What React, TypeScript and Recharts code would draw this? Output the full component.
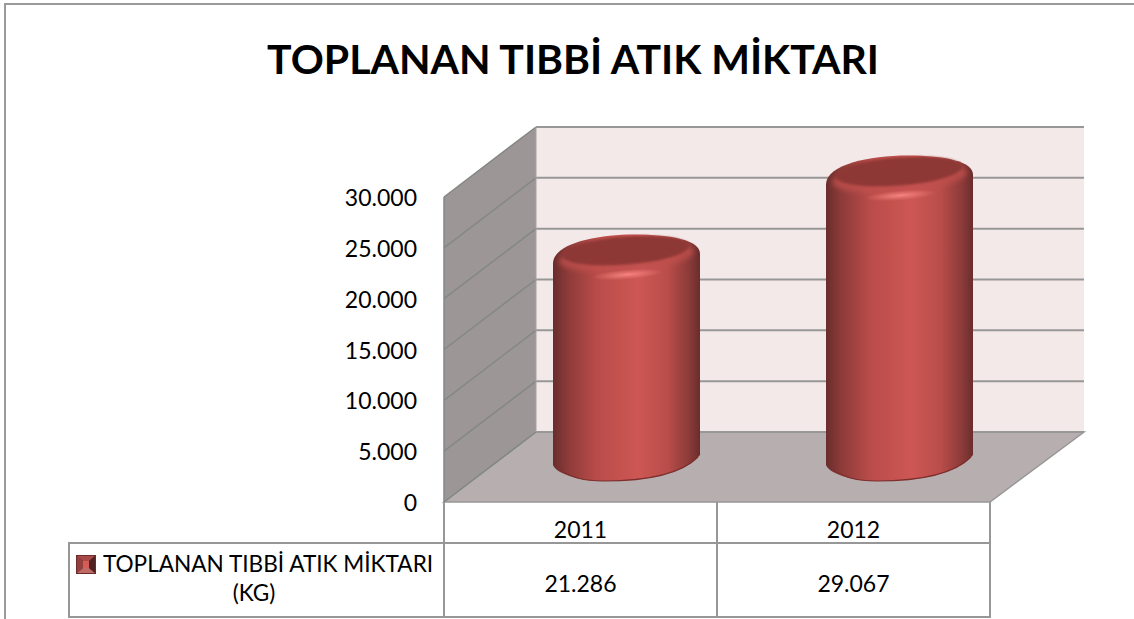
import { Bar, BarChart, XAxis, YAxis, usePlotArea } from "recharts";

const years = ["2011", "2012"];
const amounts = [21286, 29067];
const yTicks = [0, 5000, 10000, 15000, 20000, 25000, 30000];
const titleText = "TOPLANAN TIBBİ ATIK MİKTARI";
const seriesLines = ["TOPLANAN TIBBİ ATIK MİKTARI", "(KG)"];

const data = years.map((year, i) => ({ year, amount: amounts[i] }));

const FONT = "Lato, Carlito, 'Open Sans', sans-serif";
const LINE = "#979797";
const DX = 92; // depth of the fake 3d box
const DY = -70;
const yMax = yTicks[yTicks.length - 1];
const fmt = (v: number) => v.toLocaleString("de-DE");

function Box() {
  const area = usePlotArea();
  if (!area) return null;
  const { x, y, width, height } = area;
  const bottom = y + height;
  const right = x + width;
  const tickY = (t: number) => bottom - (t / yMax) * height;
  return (
    <g>
      <defs>
        <linearGradient id="body" x1="0" x2="1" y1="0" y2="0">
          <stop offset="0" stopColor="#692d2c" />
          <stop offset="0.1" stopColor="#8c3b39" />
          <stop offset="0.3" stopColor="#b94c49" />
          <stop offset="0.58" stopColor="#cd5754" />
          <stop offset="0.78" stopColor="#b94d4a" />
          <stop offset="0.93" stopColor="#8a3a38" />
          <stop offset="1" stopColor="#692d2c" />
        </linearGradient>
        <radialGradient id="shine">
          <stop offset="0" stopColor="#f58380" stopOpacity={1} />
          <stop offset="1" stopColor="#f17c78" stopOpacity={0} />
        </radialGradient>
        <filter id="soft" x="-10%" y="-20%" width="120%" height="140%">
          <feGaussianBlur stdDeviation="1.2" />
        </filter>
        <filter id="softer" x="-10%" y="-30%" width="120%" height="160%">
          <feGaussianBlur stdDeviation="2.5" />
        </filter>
      </defs>
      {/* back wall */}
      <rect x={x + DX} y={y + DY} width={width + 2} height={height} fill="#f4e9e9" />
      {/* side wall */}
      <polygon
        points={`${x},${y} ${x + DX},${y + DY} ${x + DX},${bottom + DY} ${x},${bottom}`}
        fill="#9c9696"
      />
      {/* floor */}
      <polygon
        points={`${x},${bottom} ${right},${bottom} ${right + DX + 2},${bottom + DY} ${x + DX},${bottom + DY}`}
        fill="#b7afaf"
        stroke={LINE}
        strokeWidth={1.5}
      />
      {yTicks.map((t) => (
        <g key={t} fill="none">
          <line x1={x} y1={tickY(t)} x2={x + DX} y2={tickY(t) + DY} stroke="#858787" strokeWidth={1.5} />
          <line x1={x + DX} y1={tickY(t) + DY} x2={right + DX + 2} y2={tickY(t) + DY} stroke={LINE} strokeWidth={2} />
        </g>
      ))}
      <line x1={x} y1={y} x2={x} y2={bottom} stroke="#858787" strokeWidth={1.5} />
      <line x1={x + DX} y1={y + DY} x2={x + DX} y2={bottom + DY} stroke="#a8a3a3" strokeWidth={1} />
    </g>
  );
}

function Cylinder(props: any) {
  const { x, y, width, height } = props;
  const cx = x + width / 2 + DX / 2;
  const rx = width / 2;
  const topY = y - 30;
  const botY = y + height - 41;
  const left = cx - rx;
  const right = cx + rx;
  const rot = -4.4;
  const outline =
    `M${left},${topY + 8} C${left},${topY - 12} ${cx - 30},${topY - 21} ${cx + 8},${topY - 21} ` +
    `C${cx + 45},${topY - 21} ${right},${topY - 15} ${right},${topY - 2} ` +
    `L${right},${botY - 6} C${right - 10},${botY + 6} ${cx + 40},${botY + 20} ${cx - 23},${botY + 20} ` +
    `C${cx - 50},${botY + 20} ${left + 3},${botY + 12} ${left},${botY + 4} Z`;
  return (
    <g>
      <path d={outline} fill="url(#body)" />
      <path
        d={`M${right - 2},${botY - 4} C${right - 12},${botY + 6} ${cx + 40},${botY + 20} ${cx - 23},${botY + 20} C${cx - 45},${botY + 20} ${left + 20},${botY + 16} ${left + 8},${botY + 10}`}
        fill="none"
        stroke="#7d2f2e"
        strokeWidth={1.1}
      />
      {/* lighter band under the cap */}
      <ellipse
        cx={cx}
        cy={topY + 1}
        rx={rx - 6}
        ry={15}
        fill="#c0504d"
        opacity={0.75}
        filter="url(#softer)"
        transform={`rotate(${rot} ${cx} ${topY + 1})`}
      />
      <ellipse
        cx={cx + 1}
        cy={topY + 19}
        rx={36}
        ry={5}
        fill="url(#shine)"
        transform={`rotate(${rot} ${cx} ${topY + 19})`}
      />
      <ellipse
        cx={cx - 1}
        cy={topY - 5}
        rx={rx - 10}
        ry={14}
        fill="#8e3836"
        filter="url(#soft)"
        transform={`rotate(${rot} ${cx} ${topY - 5})`}
      />
    </g>
  );
}

function YearAndValueTick(props: any) {
  const { x, payload, index } = props;
  return (
    <g fontFamily={FONT} fontSize={23} fill="#000" textAnchor="middle">
      <text x={x} y={538}>{payload.value}</text>
      <text x={x} y={592}>{fmt(amounts[index])}</text>
    </g>
  );
}

function DataTable() {
  const area = usePlotArea();
  if (!area) return null;
  const { x, y, width, height } = area;
  const top = y + height;
  const mid = x + width / 2;
  const right = x + width;
  return (
    <g fill="none" stroke={LINE} strokeWidth={2}>
      <line x1={x} y1={top} x2={x} y2={543} />
      <line x1={mid} y1={top} x2={mid} y2={617} />
      <line x1={right} y1={top} x2={right} y2={617} />
      <rect x={69} y={543} width={right - 69} height={74} />
      <line x1={x} y1={543} x2={x} y2={617} />
    </g>
  );
}

function LegendCell() {
  return (
    <g>
      <rect x={76} y={555} width={20} height={19} fill="#6b2c2b" />
      <polygon points="77,556 95,556 89,561 83,561" fill="#a94a48" />
      <polygon points="77,573 95,573 89,568 83,568" fill="#bf6a67" />
      <polygon points="77,556 83,561 83,568 77,573" fill="#93403e" />
      <polygon points="95,556 89,561 89,568 95,573" fill="#4f2120" />
      <rect x={83} y={561} width={6} height={7} fill="#d45c59" />
      <text fontFamily={FONT} fontSize={22.6} fill="#000" textAnchor="middle">
        <tspan x={268} y={572}>{seriesLines[0]}</tspan>
        <tspan x={254} y={601}>{seriesLines[1]}</tspan>
      </text>
    </g>
  );
}

export default function App() {
  return (
    <div style={{ position: "absolute", left: 0, top: 0, width: 1134, height: 619, overflow: "hidden", background: "#fff" }}>
      <BarChart
        width={1134}
        height={619}
        data={data}
        barSize={147}
        margin={{ top: 197, right: 144, bottom: 57, left: 364 }}
      >
        <Box />
        <DataTable />
        <XAxis
          dataKey="year"
          height={60}
          axisLine={false}
          tickLine={false}
          tick={<YearAndValueTick />}
          interval={0}
        />
        <YAxis
          width={80}
          domain={[0, yMax]}
          ticks={yTicks}
          interval={0}
          tickFormatter={fmt}
          axisLine={false}
          tickLine={false}
          tickSize={0}
          tickMargin={27}
          tick={{ fontFamily: FONT, fontSize: 23, fill: "#000", dy: 1 }}
        />
        <Bar dataKey="amount" shape={<Cylinder />} isAnimationActive={false} />
        <LegendCell />
        <text x={573} y={74} textAnchor="middle" fontFamily={FONT} fontWeight={700} fontSize={41} fill="#000">
          {titleText}
        </text>
        <path d="M5,619 L5,4 L1134,4" fill="none" stroke="#9a9a9a" strokeWidth={2} />
      </BarChart>
    </div>
  );
}
